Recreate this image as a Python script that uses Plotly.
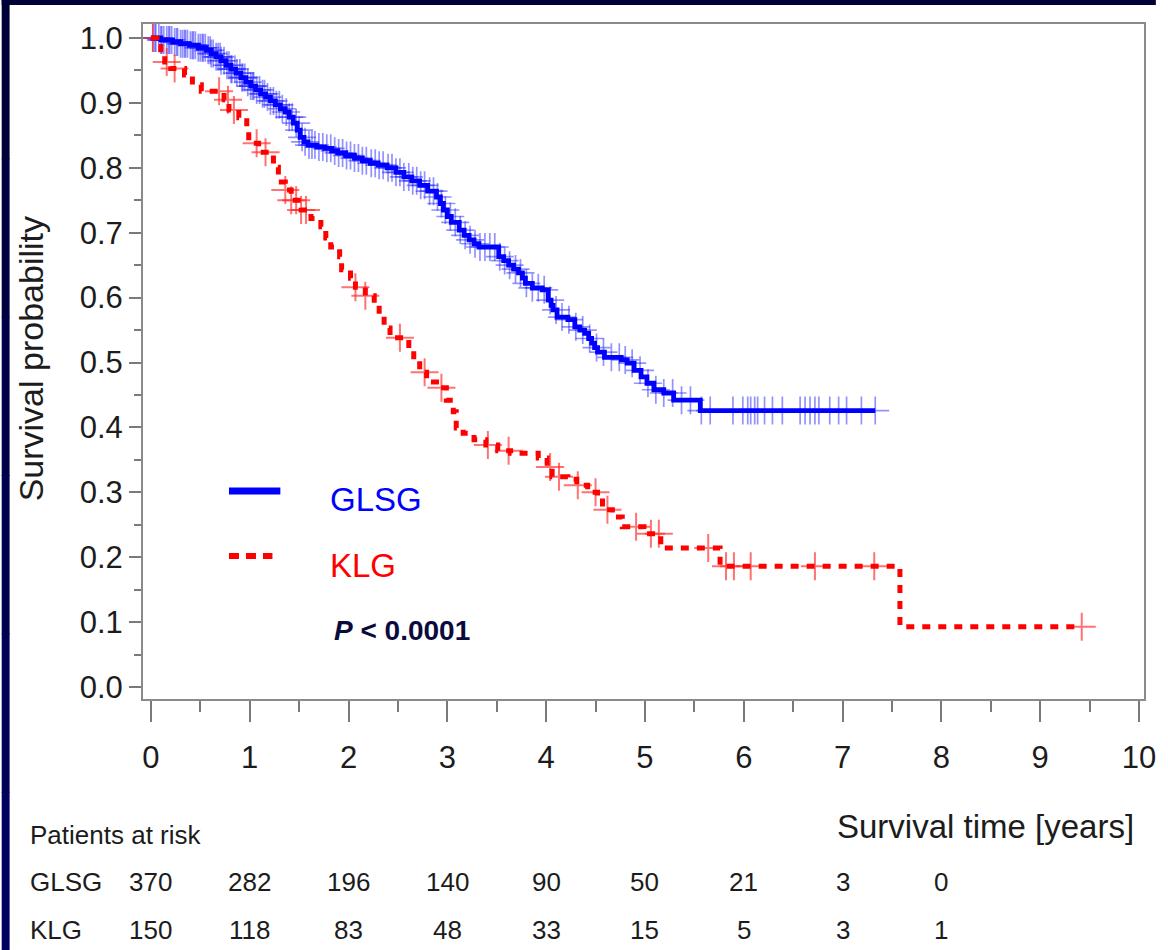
import numpy as np
import plotly.graph_objects as go

# ---------------- data ----------------
glsg_t = [0.00, 0.10, 0.22, 0.30, 0.39, 0.48, 0.56, 0.61, 0.66, 0.71, 0.76, 0.81, 0.86, 0.91,
          0.96, 1.01, 1.06, 1.11, 1.16, 1.21, 1.26, 1.31, 1.36, 1.40, 1.44, 1.48, 1.51, 1.55,
          1.59, 1.68, 1.76, 1.83, 1.89, 1.97, 2.06, 2.14, 2.22, 2.30, 2.39, 2.48, 2.56, 2.64,
          2.72, 2.80, 2.89, 2.93, 2.96, 3.00, 3.04, 3.12, 3.17, 3.22, 3.27, 3.32, 3.52, 3.57,
          3.62, 3.67, 3.72, 3.76, 3.79, 3.86, 3.96, 4.02, 4.05, 4.07, 4.11, 4.22, 4.29, 4.34,
          4.39, 4.43, 4.46, 4.49, 4.52, 4.59, 4.76, 4.82, 4.89, 4.96, 5.02, 5.09, 5.19, 5.29,
          5.56, 7.33]
glsg_s = [1.000, 0.997, 0.994, 0.991, 0.989, 0.985, 0.981, 0.976, 0.971, 0.965, 0.958, 0.952,
          0.946, 0.939, 0.932, 0.926, 0.920, 0.914, 0.909, 0.903, 0.897, 0.891, 0.886, 0.878,
          0.869, 0.858, 0.847, 0.840, 0.835, 0.832, 0.830, 0.826, 0.823, 0.819, 0.815, 0.811,
          0.807, 0.804, 0.800, 0.793, 0.786, 0.780, 0.773, 0.764, 0.755, 0.745, 0.735, 0.725,
          0.716, 0.704, 0.696, 0.689, 0.683, 0.678, 0.663, 0.657, 0.650, 0.644, 0.638, 0.630,
          0.622, 0.615, 0.612, 0.596, 0.588, 0.581, 0.570, 0.566, 0.555, 0.550, 0.545, 0.537,
          0.530, 0.523, 0.516, 0.508, 0.504, 0.499, 0.488, 0.478, 0.468, 0.458, 0.453, 0.442,
          0.426, 0.426]
glsg_censor = [0.02, 0.04, 0.05, 0.08, 0.10, 0.11, 0.13, 0.16, 0.18, 0.19, 0.21, 0.24, 0.26,
               0.27, 0.30, 0.32, 0.34, 0.35, 0.37, 0.40, 0.42, 0.43, 0.45, 0.48, 0.50, 0.52,
               0.53, 0.55, 0.58, 0.60, 0.61, 0.63, 0.66, 0.68, 0.70, 0.71, 0.74, 0.77, 0.79,
               0.81, 0.82, 0.85, 0.87, 0.90, 0.92, 0.93, 0.95, 0.98, 1.01, 1.03, 1.04, 1.07,
               1.10, 1.13, 1.15, 1.18, 1.21, 1.24, 1.27, 1.30, 1.33, 1.37, 1.40, 1.43, 1.47,
               1.50, 1.53, 1.56, 1.60, 1.63, 1.66, 1.70, 1.74, 1.78, 1.82, 1.86, 1.90, 1.94,
               1.98, 2.02, 2.06, 2.10, 2.14, 2.18, 2.23, 2.27, 2.31, 2.35, 2.40, 2.44, 2.48,
               2.52, 2.56, 2.61, 2.65, 2.69, 2.73, 2.77, 2.82, 2.86, 2.90, 2.94, 2.98, 3.03,
               3.08, 3.13, 3.18, 3.23, 3.28, 3.33, 3.38, 3.43, 3.48, 3.53, 3.58, 3.63, 3.69,
               3.74, 3.80, 3.86, 3.92, 3.98, 4.04, 4.10, 4.16, 4.23, 4.30, 4.37, 4.44, 4.51,
               4.58, 4.66, 4.74, 4.80, 4.87, 4.95, 5.03, 5.11, 5.19, 5.28, 5.37, 5.46, 5.57,
               5.66, 5.89, 5.99, 6.04, 6.07, 6.11, 6.14, 6.21, 6.29, 6.39, 6.57, 6.62, 6.67,
               6.72, 6.76, 6.87, 6.96, 7.04, 7.19, 7.33]

klg_t = [0.00, 0.06, 0.10, 0.14, 0.20, 0.34, 0.42, 0.51, 0.74, 0.79, 0.89, 0.97, 0.99, 1.09,
         1.24, 1.29, 1.36, 1.42, 1.52, 1.62, 1.72, 1.77, 1.82, 1.91, 1.93, 2.02, 2.07, 2.17,
         2.26, 2.31, 2.36, 2.42, 2.61, 2.66, 2.72, 2.79, 2.92, 2.99, 3.06, 3.09, 3.16, 3.27,
         3.39, 3.51, 3.64, 3.92, 4.01, 4.06, 4.22, 4.31, 4.42, 4.52, 4.57, 4.67, 4.77, 4.99,
         5.16, 5.76, 7.58, 9.42]
klg_s = [1.000, 0.987, 0.975, 0.963, 0.953, 0.943, 0.928, 0.918, 0.905, 0.889, 0.877, 0.861,
         0.838, 0.824, 0.801, 0.778, 0.766, 0.750, 0.735, 0.722, 0.709, 0.692, 0.678, 0.663,
         0.643, 0.630, 0.616, 0.603, 0.589, 0.573, 0.553, 0.538, 0.519, 0.504, 0.485, 0.470,
         0.461, 0.442, 0.424, 0.399, 0.391, 0.381, 0.373, 0.364, 0.360, 0.353, 0.339, 0.324,
         0.320, 0.311, 0.300, 0.291, 0.273, 0.262, 0.247, 0.236, 0.214, 0.186, 0.093, 0.093]
klg_censor = [0.02, 0.16, 0.24, 0.69, 0.78, 0.84, 1.07, 1.16, 1.36, 1.42, 1.47, 1.52, 1.57,
              2.07, 2.17, 2.52, 2.77, 2.94, 3.41, 3.62, 4.04, 4.13, 4.32, 4.50, 4.62, 4.91,
              5.06, 5.14, 5.64, 5.82, 5.90, 6.07, 6.72, 7.32, 9.42]

risk_years = [0, 1, 2, 3, 4, 5, 6, 7, 8]
glsg_risk = [370, 282, 196, 140, 90, 50, 21, 3, 0]
klg_risk = [150, 118, 83, 48, 33, 15, 5, 3, 1]

x_ticks = list(range(0, 11))
y_ticks = [round(0.1 * i, 1) for i in range(11)]

# ---------------- helpers ----------------
def step_value(times, surv, t):
    idx = np.searchsorted(np.array(times), t, side="right") - 1
    return np.array(surv)[np.clip(idx, 0, len(surv) - 1)]

W_FIG, H_FIG = 1168, 950
L, R, T, B = 143, 1156, 24, 699
PW, PH = R - L, B - T

def px(x):
    return (x - L) / PW

def py(y):
    return (B - y) / PH

FONT = "Liberation Sans, Arial, Helvetica, sans-serif"
TXT = "#1c1c1c"
BLUE = "#0000ff"
RED = "#ff0000"

fig = go.Figure()

# censor marks
fig.add_trace(go.Scatter(
    x=glsg_censor, y=step_value(glsg_t, glsg_s, glsg_censor).tolist(),
    mode="markers", hoverinfo="skip",
    marker=dict(symbol="cross-thin", size=20,
                line=dict(color="rgba(40,40,255,0.5)", width=1.7))))
fig.add_trace(go.Scatter(
    x=klg_censor, y=step_value(klg_t, klg_s, klg_censor).tolist(),
    mode="markers", hoverinfo="skip",
    marker=dict(symbol="cross-thin", size=20,
                line=dict(color="rgba(255,40,40,0.65)", width=2))))

# survival curves
fig.add_trace(go.Scatter(x=glsg_t, y=glsg_s, mode="lines", line_shape="hv",
                         line=dict(color=BLUE, width=4.8), hoverinfo="skip"))
fig.add_trace(go.Scatter(x=klg_t, y=klg_s, mode="lines", line_shape="hv",
                         line=dict(color=RED, width=5, dash="8px,8px"), hoverinfo="skip"))

axis_common = dict(
    showline=True, linecolor="#8a8a8a", linewidth=2, mirror=True,
    ticks="outside", tickcolor="#7a7a7a", tickwidth=1.5,
    showgrid=False, zeroline=False,
    tickfont=dict(family=FONT, size=31, color=TXT),
)

fig.update_layout(
    width=W_FIG, height=H_FIG, autosize=False,
    margin=dict(l=L, r=W_FIG - R, t=T, b=H_FIG - B),
    paper_bgcolor="white", plot_bgcolor="white",
    showlegend=False,
    xaxis=dict(range=[-0.08, 10.05], tickmode="array", tickvals=x_ticks,
               ticktext=[str(v) for v in x_ticks], ticklen=21, ticklabelstandoff=9,
               minor=dict(dtick=0.5, tick0=0, ticklen=11, ticks="outside",
                          tickcolor="#7a7a7a", tickwidth=1.5, showgrid=False),
               **axis_common),
    yaxis=dict(range=[-0.0185, 1.0216], tickmode="array", tickvals=y_ticks,
               ticktext=[f"{v:.1f}" for v in y_ticks], ticklen=12, ticklabelstandoff=0,
               minor=dict(dtick=0.05, tick0=0, ticklen=7, ticks="outside",
                          tickcolor="#7a7a7a", tickwidth=1.5, showgrid=False),
               **axis_common),
)

shapes = []
# navy slide border (top and left)
navy_steps = ["#000038", "#000040", "#000048", "#000050", "#000058", "#000060"]
seg = H_FIG / len(navy_steps)
for i, c in enumerate(navy_steps):
    shapes.append(dict(type="rect", xref="paper", yref="paper", layer="above",
                       x0=px(0), x1=px(8), y0=py(i * seg + seg + 1), y1=py(i * seg),
                       fillcolor=c, line=dict(width=0)))
shapes.append(dict(type="rect", xref="paper", yref="paper", layer="above",
                   x0=px(0), x1=px(W_FIG), y0=py(5), y1=py(0),
                   fillcolor="#000038", line=dict(width=0)))
# legend samples
shapes.append(dict(type="line", xref="paper", yref="paper",
                   x0=px(230), x1=px(282), y0=py(491), y1=py(491),
                   line=dict(color=BLUE, width=7)))
shapes.append(dict(type="line", xref="paper", yref="paper",
                   x0=px(230), x1=px(274), y0=py(556), y1=py(556),
                   line=dict(color=RED, width=6, dash="10px,7px")))
fig.update_layout(shapes=shapes)

ann = []
ann.append(dict(text="Survival probability", x=px(30), y=py(359), xref="paper", yref="paper",
                textangle=-90, showarrow=False, xanchor="center", yanchor="middle",
                font=dict(family=FONT, size=34, color=TXT)))
ann.append(dict(text="Survival time [years]", x=px(1148), y=py(826), xref="paper", yref="paper",
                showarrow=False, xanchor="right", yanchor="middle",
                font=dict(family=FONT, size=33, color=TXT)))
ann.append(dict(text="Patients at risk", x=px(27), y=py(835), xref="paper", yref="paper",
                showarrow=False, xanchor="left", yanchor="middle",
                font=dict(family=FONT, size=26, color=TXT)))
for label, row_y, vals in (("GLSG", 882, glsg_risk), ("KLG", 930, klg_risk)):
    ann.append(dict(text=label, x=px(27), y=py(row_y), xref="paper", yref="paper",
                    showarrow=False, xanchor="left", yanchor="middle",
                    font=dict(family=FONT, size=26, color=TXT)))
    for yr, v in zip(risk_years, vals):
        ann.append(dict(text=str(v), x=yr, y=py(row_y), xref="x", yref="paper",
                        showarrow=False, xanchor="center", yanchor="middle",
                        font=dict(family=FONT, size=26, color=TXT)))
ann.append(dict(text="GLSG", x=px(330), y=py(500), xref="paper", yref="paper",
                showarrow=False, xanchor="left", yanchor="middle",
                font=dict(family=FONT, size=33, color=BLUE)))
ann.append(dict(text="KLG", x=px(330), y=py(565), xref="paper", yref="paper",
                showarrow=False, xanchor="left", yanchor="middle",
                font=dict(family=FONT, size=33, color=RED)))
ann.append(dict(text="<b><i>P</i> &lt; 0.0001</b>", x=px(334), y=py(630), xref="paper",
                yref="paper", showarrow=False, xanchor="left", yanchor="middle",
                font=dict(family=FONT, size=28, color="#0a0a3c")))
fig.update_layout(annotations=ann)

fig.write_html(
    "out.html",
    config={"displayModeBar": False},
    post_script=("document.documentElement.style.margin='0';"
                 "document.body.style.margin='0';"
                 "document.body.style.overflow='hidden';"
                 "document.documentElement.style.overflow='hidden';"),
)
